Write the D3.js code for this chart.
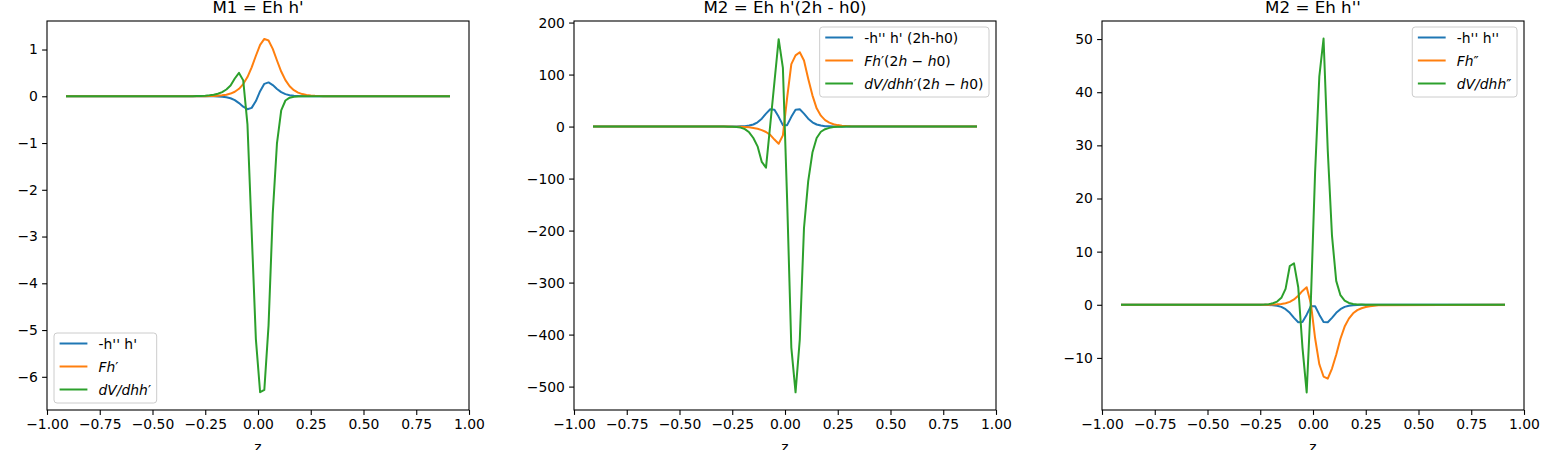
<!DOCTYPE html>
<html>
<head>
<meta charset="utf-8">
<script src="https://cdn.jsdelivr.net/npm/d3@7"></script>
<style>
    body { margin: 0; background: #fff; }
    svg { display: block; font-family: "DejaVu Sans", sans-serif; }
</style>
</head>
<body>
<svg id="chart" width="1550" height="450"></svg>
<script>
// z grid shared by every curve (flat outside |z| < 0.31)
const zGrid = [-0.91, -0.31, -0.29, -0.27, -0.25, -0.23, -0.21, -0.19, -0.17, -0.15, -0.13, -0.11, -0.09, -0.07, -0.05, -0.03, -0.01,
               0.01, 0.03, 0.05, 0.07, 0.09, 0.11, 0.13, 0.15, 0.17, 0.19, 0.21, 0.23, 0.25, 0.27, 0.29, 0.31, 0.91];

// M1 = Eh h'
const m1Blue   = [0, 0, 0, 0, -0.0005, -0.001, -0.002, -0.004, -0.010, -0.021, -0.043, -0.083, -0.146, -0.223, -0.277, -0.248, -0.102,
                  0.109, 0.266, 0.297, 0.240, 0.157, 0.089, 0.046, 0.022, 0.010, 0.005, 0.002, 0.001, 0.0005, 0, 0, 0, 0];
const m1Orange = [0, 0, 0.001, 0.001, 0.002, 0.004, 0.007, 0.012, 0.020, 0.034, 0.058, 0.097, 0.160, 0.261, 0.411, 0.619, 0.867,
                  1.098, 1.227, 1.193, 1.013, 0.765, 0.529, 0.345, 0.215, 0.131, 0.079, 0.047, 0.028, 0.016, 0.010, 0.006, 0.003, 0];
const m1Green  = [0, 0.002, 0.004, 0.007, 0.012, 0.020, 0.033, 0.055, 0.090, 0.145, 0.230, 0.380, 0.500, 0.340, -0.60, -2.90, -5.20,
                  -6.33, -6.28, -4.90, -2.50, -1.00, -0.30, -0.09, -0.03, -0.01, -0.003, -0.001, 0, 0, 0, 0, 0, 0];

// M2 = Eh h'(2h - h0)
const m2Blue   = [0, 0, 0.01, 0.03, 0.07, 0.15, 0.4, 0.8, 1.9, 4.0, 8.2, 15.2, 24.8, 33.2, 32.5, 18.7, 2.7,
                  2.7, 18.7, 32.5, 33.2, 24.8, 15.2, 8.2, 4.0, 1.9, 0.8, 0.4, 0.15, 0.07, 0.03, 0.01, 0, 0];
const m2Orange = [0, 0, 0, -0.1, -0.15, -0.25, -0.45, -0.8, -1.5, -2.6, -4.2, -6.8, -10.5, -16, -25, -33, -17,
                  55, 120, 137, 143, 127, 92, 60, 35, 21, 12.5, 7.5, 4.5, 2.8, 1.7, 1.0, 0.6, 0];
const m2Green  = [0, 0, -0.1, -0.2, -0.4, -1, -2, -5, -11, -22, -38, -68, -79, 3, 86, 168, 113,
                  -140, -425, -511, -410, -195, -105, -50, -22, -10, -5, -2.5, -1, -0.5, -0.2, -0.1, 0, 0];

// M2 = Eh h''
const m3Blue   = [0, 0, 0, 0, -0.007, -0.015, -0.04, -0.08, -0.19, -0.40, -0.82, -1.51, -2.47, -3.30, -3.23, -1.86, -0.27,
                  -0.27, -1.86, -3.23, -3.30, -2.47, -1.51, -0.82, -0.40, -0.19, -0.08, -0.04, -0.015, -0.007, 0, 0, 0, 0];
const m3Orange = [0, 0, 0, 0.003, 0.005, 0.01, 0.02, 0.04, 0.08, 0.15, 0.3, 0.55, 1.0, 1.7, 2.6, 3.3, 0.2,
                  -6.3, -11.2, -13.5, -13.9, -12.0, -9.4, -6.4, -4.1, -2.6, -1.6, -1.0, -0.65, -0.42, -0.27, -0.17, -0.1, 0];
const m3Green  = [0, 0, 0.005, 0.01, 0.02, 0.05, 0.12, 0.28, 0.6, 1.3, 3.0, 7.3, 7.8, 3.3, -8, -16.5, 0.9,
                  25, 43, 50.1, 29, 13, 4.5, 1.8, 0.8, 0.35, 0.15, 0.06, 0.03, 0.01, 0, 0, 0, 0];

// ticks and texts
const xTicks  = [-1, -0.75, -0.5, -0.25, 0, 0.25, 0.5, 0.75, 1];
const m1YTicks = [-6, -5, -4, -3, -2, -1, 0, 1];
const m2YTicks = [-500, -400, -300, -200, -100, 0, 100, 200];
const m3YTicks = [-10, 0, 10, 20, 30, 40, 50];
const titles = ["M1 = Eh h'", "M2 = Eh h'(2h - h0)", "M2 = Eh h''"];

// legend labels as [text, italic] pieces (mathtext parts in italic)
const m1Labels = [[["-h'' h'", false]],
                  [["Fh", true], ["′", false]],
                  [["dV/dhh", true], ["′", false]]];
const m2Labels = [[["-h'' h' (2h-h0)", false]],
                  [["Fh", true], ["′(2", false], ["h", true], [" − ", false], ["h", true], ["0)", false]],
                  [["dV/dhh", true], ["′(2", false], ["h", true], [" − ", false], ["h", true], ["0)", false]]];
const m3Labels = [[["-h'' h''", false]],
                  [["Fh", true], ["″", false]],
                  [["dV/dhh", true], ["″", false]]];

const colors = ["#1f77b4", "#ff7f0e", "#2ca02c"];

var svg = d3.select("#chart");

// axes boxes in pixels (matplotlib-like layout)
var axW = 422, axTop = 21, axBottom = 410,
    fontPx = 13.9;

var panels = [
    { left: 47,   title: titles[0], yDomain: [-6.71, 1.61], yTicks: m1YTicks,
      series: [m1Blue, m1Orange, m1Green], labels: m1Labels, legend: "lower left" },
    { left: 574,  title: titles[1], yDomain: [-545, 203],   yTicks: m2YTicks,
      series: [m2Blue, m2Orange, m2Green], labels: m2Labels, legend: "upper right" },
    { left: 1102, title: titles[2], yDomain: [-19.8, 53.4], yTicks: m3YTicks,
      series: [m3Blue, m3Orange, m3Green], labels: m3Labels, legend: "upper right" }
];

panels.forEach(p => {
    var x = d3.scaleLinear().domain([-1, 1]).range([p.left, p.left + axW]),
        y = d3.scaleLinear().domain(p.yDomain).range([axBottom, axTop]);

    var g = svg.append("g");

    // x axis
    var gx = g.append("g")
        .attr("transform", `translate(0,${axBottom})`)
        .call(d3.axisBottom(x)
            .tickValues(xTicks)
            .tickFormat(d3.format(".2f"))
            .tickSizeOuter(0)
            .tickSize(4.9)
            .tickPadding(4.2));

    // y axis
    var gy = g.append("g")
        .attr("transform", `translate(${p.left},0)`)
        .call(d3.axisLeft(y)
            .tickValues(p.yTicks)
            .tickFormat(d3.format("d"))
            .tickSizeOuter(0)
            .tickSize(4.9)
            .tickPadding(4.2));

    [gx, gy].forEach(a => {
        a.select(".domain").remove();
        a.selectAll(".tick line").attr("stroke", "#000").attr("stroke-width", 1.1);
        a.selectAll(".tick text")
            .attr("fill", "#000")
            .style("font-family", "DejaVu Sans")
            .style("font-size", fontPx + "px");
    });

    // curves
    var line = d3.line()
        .x((d, i) => x(zGrid[i]))
        .y(d => y(d));

    p.series.forEach((s, k) => {
        g.append("path")
            .datum(s)
            .attr("fill", "none")
            .attr("stroke", colors[k])
            .attr("stroke-width", 2)
            .attr("stroke-linejoin", "round")
            .attr("d", line);
    });

    // frame
    g.append("rect")
        .attr("x", p.left)
        .attr("y", axTop)
        .attr("width", axW)
        .attr("height", axBottom - axTop)
        .attr("fill", "none")
        .attr("stroke", "#000")
        .attr("stroke-width", 1.1);

    // title and x label
    g.append("text")
        .attr("x", p.left + axW / 2)
        .attr("y", 13)
        .attr("text-anchor", "middle")
        .style("font-size", "16.7px")
        .text(p.title);

    g.append("text")
        .attr("x", p.left + axW / 2)
        .attr("y", 452)
        .attr("text-anchor", "middle")
        .style("font-size", fontPx + "px")
        .text("z");

    // legend
    var leg = g.append("g");
    var box = leg.append("rect")
        .attr("fill", "#fff")
        .attr("fill-opacity", 0.8)
        .attr("stroke", "#cccccc")
        .attr("stroke-width", 1)
        .attr("rx", 3);

    var rowsY = [10.5, 33.5, 56.5];
    var texts = p.labels.map((parts, k) => {
        leg.append("line")
            .attr("x1", 5.6).attr("x2", 33.4)
            .attr("y1", rowsY[k]).attr("y2", rowsY[k])
            .attr("stroke", colors[k])
            .attr("stroke-width", 2);
        var t = leg.append("text")
            .attr("x", 44.5)
            .attr("y", rowsY[k] + 5)
            .style("font-size", fontPx + "px")
            .attr("xml:space", "preserve");
        parts.forEach(([str, it]) => {
            t.append("tspan")
                .style("font-style", it ? "italic" : "normal")
                .text(str);
        });
        return t;
    });

    var textW = d3.max(texts, t => t.node().getComputedTextLength()),
        boxW = 44.5 + textW + 5.6,
        boxH = 70;
    box.attr("width", boxW).attr("height", boxH);

    var lx, ly;
    if (p.legend === "lower left") {
        lx = p.left + 7;
        ly = axBottom - 7 - boxH;
    } else {
        lx = p.left + axW - 7 - boxW;
        ly = axTop + 6;
    }
    leg.attr("transform", `translate(${lx},${ly})`);
});
</script>
</body>
</html>
